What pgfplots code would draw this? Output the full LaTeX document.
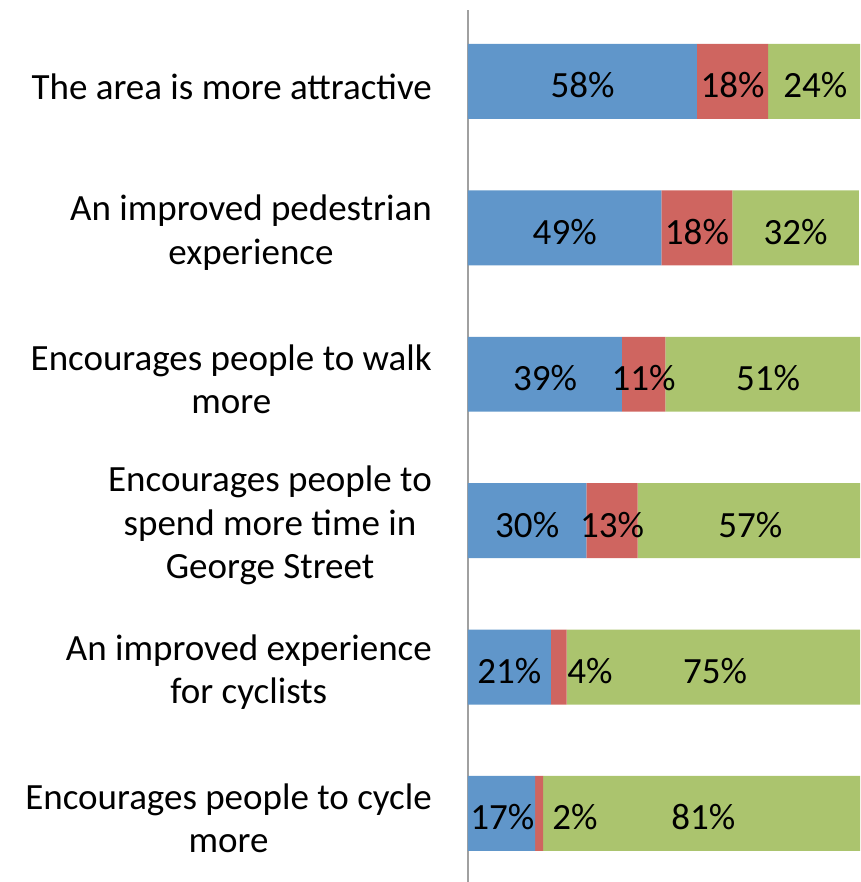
\documentclass[border=0pt]{standalone}
\usepackage{pgfplots}
\pgfplotsset{compat=1.18}
\usepackage{fontspec}
\setmainfont{Carlito}
\definecolor{cblue}{RGB}{96,150,202}
\definecolor{cred}{RGB}{207,101,96}
\definecolor{cgreen}{RGB}{171,196,110}
\definecolor{caxis}{RGB}{160,160,160}
\begin{document}
\begin{tikzpicture}
\useasboundingbox (-468pt,0pt) rectangle (392pt,882pt);
\pgfplotsset{
  common/.style={
    at={(0pt,0pt)}, anchor=south west,
    scale only axis, width=392pt, height=872pt,
    xmin=0, xmax=99.3, ymin=-0.468, ymax=5.488,
  }
}
\begin{axis}[
  common,
  xbar stacked,
  bar width=0.512,
  hide x axis,
  axis y line=left,
  y axis line style={-, draw=caxis, line width=1.5pt},
  ytick={0,1,2,3,4,5},
  yticklabels={
    {Encourages people to cycle\\more},
    {An improved experience\\for cyclists},
    {Encourages people to\\spend more time in\\George Street},
    {Encourages people to walk\\more},
    {An improved pedestrian\\experience},
    {The area is more attractive}},
  major tick length=0pt,
  ytick style={draw=none},
  yticklabel style={align=center, anchor=east, inner sep=0pt, xshift=-36pt, yshift=-5pt,
    font=\fontsize{37}{43.5}\selectfont},
]
\addplot[fill=cblue, draw=none] coordinates {(17,0) (21,1) (30,2) (39,3) (49,4) (58,5)};
\addplot[fill=cred, draw=none] coordinates {(2,0) (4,1) (13,2) (11,3) (18,4) (18,5)};
\addplot[fill=cgreen, draw=none] coordinates {(81,0) (75,1) (57,2) (51,3) (32,4) (24,5)};
\end{axis}
\begin{axis}[
  common,
  hide axis,
]
\addplot[only marks, mark=none, point meta=explicit symbolic,
  nodes near coords,
  nodes near coords style={anchor=center, inner sep=0pt, yshift=-4pt, font=\fontsize{37}{43.5}\selectfont}]
table[meta=label] {
x y label
8.7 0 17\%
27.1 0 2\%
59.6 0 81\%
10.5 1 21\%
30.9 1 4\%
62.6 1 75\%
15 2 30\%
36.5 2 13\%
71.5 2 57\%
19.5 3 39\%
44.5 3 11\%
76 3 51\%
24.5 4 49\%
58 4 18\%
83 4 32\%
29 5 58\%
67 5 18\%
88 5 24\%
};
\end{axis}
\end{tikzpicture}
\end{document}
